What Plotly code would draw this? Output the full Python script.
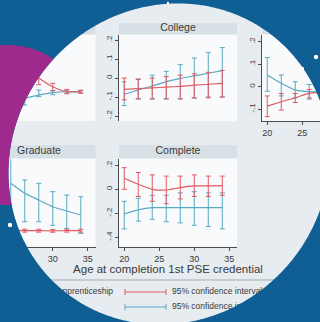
import numpy as np
import plotly.graph_objects as go

W, H = 320, 322

# ---------------- data ----------------
years = [20, 22, 24, 26, 28, 30, 32, 34]

# top-left panel (title clipped)
tl_years = [26, 28, 30, 32, 34]
tl_red = [0.06, 0.0, -0.046, -0.072, -0.072]
tl_red_lo = [0.0, -0.035, -0.067, -0.083, -0.08]
tl_red_hi = [0.12, 0.04, -0.028, -0.06, -0.064]
tl_blue = [-0.107, -0.09, -0.077, -0.072, -0.072]
tl_blue_lo = [-0.142, -0.098, -0.088, -0.08, -0.078]
tl_blue_hi = [-0.07, -0.063, -0.066, -0.064, -0.066]

# College
col_red = [-0.06, -0.056, -0.052, -0.048, -0.044, -0.038, -0.033, -0.028]
col_red_lo = [-0.115, -0.11, -0.11, -0.11, -0.11, -0.105, -0.105, -0.10]
col_red_hi = [0.0, -0.005, 0.0, 0.008, 0.015, 0.022, 0.03, 0.04]
col_blue = [-0.086, -0.063, -0.042, -0.019, -0.002, 0.011, 0.025, 0.039]
col_blue_lo = [-0.145, -0.11, -0.11, -0.11, -0.11, -0.105, -0.10, -0.10]
col_blue_hi = [-0.02, -0.008, 0.015, 0.035, 0.07, 0.105, 0.135, 0.16]

# top-right panel (title clipped)
tr_red = [-0.086, -0.067, -0.049, -0.03, -0.025, -0.025, -0.025, -0.025]
tr_red_lo = [-0.133, -0.104, -0.07, -0.05, -0.05, -0.05, -0.05, -0.05]
tr_red_hi = [-0.041, -0.03, -0.03, -0.012, 0.0, 0.0, 0.0, 0.0]
tr_blue = [0.052, 0.015, -0.015, -0.022, -0.025, -0.025, -0.025, -0.025]
tr_blue_lo = [-0.02, -0.041, -0.05, -0.055, -0.06, -0.06, -0.06, -0.06]
tr_blue_hi = [0.13, 0.052, 0.022, 0.01, 0.01, 0.01, 0.01, 0.01]

# Graduate
grad_years = [24, 26, 28, 30, 32, 34]
grad_red = [-0.343, -0.345, -0.345, -0.346, -0.345, -0.345]
grad_red_lo = [-0.355, -0.357, -0.357, -0.358, -0.357, -0.357]
grad_red_hi = [-0.331, -0.333, -0.333, -0.334, -0.333, -0.333]
grad_blue = [0.05, -0.033, -0.089, -0.145, -0.181, -0.214]
grad_blue_lo = [-0.2, -0.27, -0.27, -0.3, -0.325, -0.367]
grad_blue_hi = [0.3, 0.078, 0.05, -0.02, -0.048, -0.062]

# Complete
cmp_red = [0.092, 0.042, 0.0, -0.006, 0.014, 0.028, 0.028, 0.03]
cmp_red_lo = [0.0, -0.06, -0.1, -0.12, -0.08, -0.06, -0.06, -0.05]
cmp_red_hi = [0.18, 0.14, 0.12, 0.11, 0.11, 0.12, 0.11, 0.11]
cmp_blue = [-0.206, -0.172, -0.153, -0.153, -0.153, -0.153, -0.153, -0.153]
cmp_blue_lo = [-0.33, -0.265, -0.25, -0.27, -0.28, -0.3, -0.31, -0.33]
cmp_blue_hi = [-0.1, -0.075, -0.05, -0.05, -0.03, -0.02, -0.03, -0.03]

x_ticks = [20, 25, 30, 35]
col_yticks = [-0.2, -0.1, 0, 0.1, 0.2]
col_ylabels = ["-.2", "-.1", "0", ".1", ".2"]
tr_yticks = [-0.1, 0, 0.1, 0.2]
tr_ylabels = ["-.1", "0", ".1", ".2"]
cmp_yticks = [-0.4, -0.2, 0, 0.2]
cmp_ylabels = ["-.4", "-.2", "0", ".2"]

panel_titles = ["College", "Graduate", "Complete"]
x_title = "Age at completion 1st PSE credential"
legend_left = "Apprenticeship"
legend_ci = ["95% confidence interval", "95% confidence interval"]

# ---------------- styling ----------------
RED = "#df5b63"
BLUE = "#5ba9c2"
BG_BLUE = "#0f5e94"
PURPLE = "#9f2a8e"
CHART_BG = "#e6ecf0"
PLOT_BG = "#f8fafb"
HEAD_BG = "#d7e0e5"
TXT = "#3a3a3a"
AX = "#4d4d4d"
FONT = "Liberation Sans"


def fx(p):
    return p / W


def fy(p):
    return 1 - p / H


fig = go.Figure()


def add_series(xs, v, lo, hi, color, xa, ya):
    fig.add_trace(go.Scatter(
        x=xs, y=v, mode="lines",
        line=dict(color=color, width=1.2, shape="spline", smoothing=0.6),
        error_y=dict(type="data", symmetric=False,
                     array=[h - a for h, a in zip(hi, v)],
                     arrayminus=[a - l for a, l in zip(v, lo)],
                     color=color, thickness=1, width=2.5),
        xaxis=xa, yaxis=ya, showlegend=False, hoverinfo="skip"))


add_series(tl_years, tl_blue, tl_blue_lo, tl_blue_hi, BLUE, "x", "y")
add_series(tl_years, tl_red, tl_red_lo, tl_red_hi, RED, "x", "y")
add_series(years, col_blue, col_blue_lo, col_blue_hi, BLUE, "x2", "y2")
add_series(years, col_red, col_red_lo, col_red_hi, RED, "x2", "y2")
add_series(years, tr_blue, tr_blue_lo, tr_blue_hi, BLUE, "x3", "y3")
add_series(years, tr_red, tr_red_lo, tr_red_hi, RED, "x3", "y3")
add_series(grad_years, grad_blue, grad_blue_lo, grad_blue_hi, BLUE, "x4", "y4")
add_series(grad_years, grad_red, grad_red_lo, grad_red_hi, RED, "x4", "y4")
add_series(years, cmp_blue, cmp_blue_lo, cmp_blue_hi, BLUE, "x5", "y5")
add_series(years, cmp_red, cmp_red_lo, cmp_red_hi, RED, "x5", "y5")


# ---------- overlay texts (pixel axis, so they get masked) ----------
def add_text(xs, ys, texts, pos, size):
    fig.add_trace(go.Scatter(
        x=xs, y=ys, text=texts, mode="text", textposition=pos,
        textfont=dict(size=size, color=TXT, family=FONT),
        xaxis="x9", yaxis="y9", cliponaxis=False, showlegend=False, hoverinfo="skip"))


add_text([178, 39, 178], [28.5, 151.5, 151.5], panel_titles, "middle center", 10.5)
add_text([168], [270], [x_title], "middle center", 11.5)
add_text([113], [292], [legend_left], "middle left", 8.5)
add_text([172, 172], [292, 307], legend_ci, "middle right", 8.5)

# ---------------- axes ----------------
row1 = [fy(121), fy(35)]
row2 = [fy(246.7), fy(159)]
col1 = [0, fx(95.5)]
col2 = [fx(119), fx(237)]
col3 = [fx(262), 1]
px_per_year = 7.0
xr_full = [19.25, 36.1]
xr_col1 = [19.25 + 22.5 / px_per_year, 36.1]
xr_col3 = [19.25, 19.25 + 58 / px_per_year]
yr_col = [-0.2263, 0.2263]
yr_tr = [-0.1524, 0.2298]
yr_cmp = [-0.4783, 0.2525]

vis_axis = dict(showline=True, linecolor=AX, linewidth=1, ticks="outside", ticklen=3,
                tickwidth=1, tickcolor=AX, showgrid=False, zeroline=False,
                tickfont=dict(size=9, color=TXT, family=FONT))
yvis = dict(vis_axis, tickangle=-90, tickfont=dict(size=8, color=TXT, family=FONT))

layout = dict(
    width=W, height=H, margin=dict(l=0, r=0, t=0, b=0),
    paper_bgcolor=CHART_BG, plot_bgcolor="rgba(0,0,0,0)", showlegend=False,
    xaxis=dict(domain=col1, range=xr_col1, visible=False, anchor="y"),
    yaxis=dict(domain=row1, range=yr_col, visible=False, anchor="x"),
    xaxis2=dict(domain=col2, range=xr_full, visible=False, anchor="y2"),
    yaxis2=dict(yvis, domain=row1, range=yr_col, anchor="x2", tickvals=col_yticks, ticktext=col_ylabels),
    xaxis3=dict(vis_axis, domain=col3, range=xr_col3, anchor="y3", tickvals=x_ticks),
    yaxis3=dict(yvis, domain=row1, range=yr_tr, anchor="x3", tickvals=tr_yticks, ticktext=tr_ylabels),
    xaxis4=dict(vis_axis, domain=col1, range=xr_col1, anchor="y4", tickvals=x_ticks),
    yaxis4=dict(domain=row2, range=yr_cmp, visible=False, anchor="x4"),
    xaxis5=dict(vis_axis, domain=col2, range=xr_full, anchor="y5", tickvals=x_ticks),
    yaxis5=dict(yvis, domain=row2, range=yr_cmp, anchor="x5", tickvals=cmp_yticks, ticktext=cmp_ylabels),
    xaxis9=dict(domain=[0, 1], range=[0, W], visible=False, anchor="y9"),
    yaxis9=dict(domain=[0, 1], range=[H, 0], visible=False, anchor="x9"),
)
fig.update_layout(**layout)

shapes = []
# plot-area backgrounds and strip headers
for cx in (col1, col2, col3):
    shapes.append(dict(type="rect", xref="paper", yref="paper", x0=cx[0], x1=cx[1],
                       y0=row1[0], y1=row1[1], fillcolor=PLOT_BG, line=dict(width=0), layer="below"))
    shapes.append(dict(type="rect", xref="paper", yref="paper", x0=cx[0], x1=cx[1],
                       y0=fy(34), y1=fy(23), fillcolor=HEAD_BG, line=dict(width=0), layer="below"))
for cx in (col1, col2):
    shapes.append(dict(type="rect", xref="paper", yref="paper", x0=cx[0], x1=cx[1],
                       y0=row2[0], y1=row2[1], fillcolor=PLOT_BG, line=dict(width=0), layer="below"))
    shapes.append(dict(type="rect", xref="paper", yref="paper", x0=cx[0], x1=cx[1],
                       y0=fy(158), y1=fy(145), fillcolor=HEAD_BG, line=dict(width=0), layer="below"))

# legend frame line and keys (pixel coordinates on overlay axis)
shapes.append(dict(type="line", xref="x9", yref="y9", x0=0, x1=W, y0=280, y1=280,
                   line=dict(color="#a3adb3", width=1), layer="below"))
for yk, ck in ((292, RED), (307, BLUE)):
    shapes.append(dict(type="line", xref="x9", yref="y9", x0=125, x1=166, y0=yk, y1=yk,
                       line=dict(color=ck, width=1), layer="below"))
    for xk in (125, 166):
        shapes.append(dict(type="line", xref="x9", yref="y9", x0=xk, x1=xk, y0=yk - 3, y1=yk + 3,
                           line=dict(color=ck, width=1), layer="below"))

# elliptical window (slightly tilted)
CX, CY, EA, EB = 169, 164, 165, 156     # EA along top-right/bottom-left, EB along the other diagonal
s2 = np.sqrt(0.5)
uvec = np.array([s2, -s2])
vvec = np.array([s2, s2])


def ellipse_pts(n=721):
    ph = np.linspace(0, 2 * np.pi, n)
    xs = CX + EA * np.cos(ph) * uvec[0] + EB * np.sin(ph) * vvec[0]
    ys = CY + EA * np.cos(ph) * uvec[1] + EB * np.sin(ph) * vvec[1]
    return xs, ys


def inside_ellipse(x, y):
    dx, dy = x - CX, y - CY
    du = dx * uvec[0] + dy * uvec[1]
    dv = dx * vvec[0] + dy * vvec[1]
    return (du / EA) ** 2 + (dv / EB) ** 2 < 1


ex, ey = ellipse_pts()
ell = " ".join(f"L{a:.2f},{b:.2f}" for a, b in zip(ex[1:], ey[1:]))
mask_path = (f"M-5,-5 L{W + 5},-5 L{W + 5},{H + 5} L-5,{H + 5} Z "
             f"M{ex[0]:.2f},{ey[0]:.2f} {ell} Z")
shapes.append(dict(type="path", xref="x9", yref="y9", path=mask_path, fillcolor=BG_BLUE,
                   line=dict(width=0), layer="above", fillrule="evenodd"))

# purple blob outside the window
PX, PY, PR = 8, 125, 80
d = np.arctan2(PY - CY, PX - CX)


def rel(x, y):
    a = np.arctan2(y - CY, x - CX) - d
    return (a + np.pi) % (2 * np.pi) - np.pi


tt = np.linspace(0, 2 * np.pi, 1441)
ppx, ppy = PX + PR * np.cos(tt), PY + PR * np.sin(tt)
kp = ~inside_ellipse(ppx, ppy)
ppx, ppy = ppx[kp], ppy[kp]
op = np.argsort(rel(ppx, ppy))
ex2, ey2 = ellipse_pts(1441)
km = np.hypot(ex2 - PX, ey2 - PY) < PR
ex2, ey2 = ex2[km], ey2[km]
om = np.argsort(rel(ex2, ey2))[::-1]
pts = list(zip(ppx[op], ppy[op])) + list(zip(ex2[om], ey2[om]))
ppath = "M" + " L".join(f"{a:.2f},{b:.2f}" for a, b in pts) + " Z"
shapes.append(dict(type="path", xref="x9", yref="y9", path=ppath, fillcolor=PURPLE,
                   line=dict(width=0), layer="above"))

# little white dots
for dx, dy, dr in ((10, 225, 2.2), (302, 69, 2.2), (316, 57, 2.2), (168, 3, 1.2)):
    shapes.append(dict(type="circle", xref="x9", yref="y9", x0=dx - dr, x1=dx + dr,
                       y0=dy - dr, y1=dy + dr, fillcolor="white", line=dict(width=0), layer="above"))

fig.update_layout(shapes=shapes)
fig.write_html("out.html")
